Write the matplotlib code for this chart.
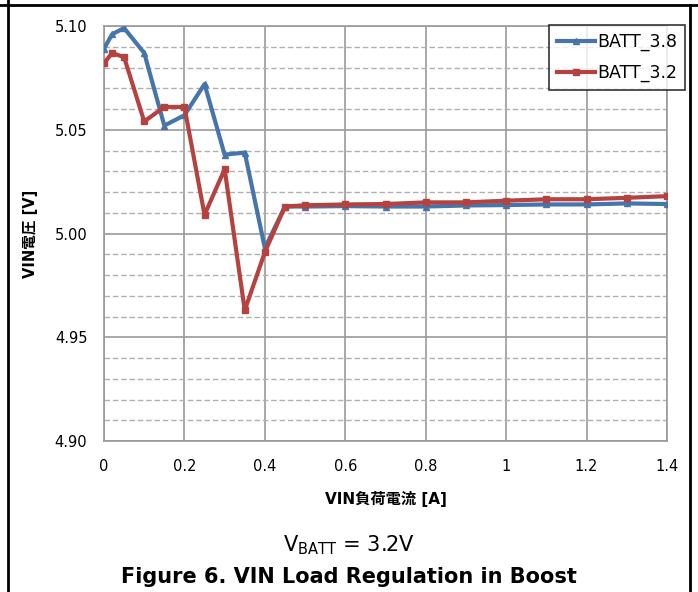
import matplotlib
matplotlib.use("Agg")
import matplotlib.pyplot as plt
from matplotlib.lines import Line2D
import numpy as np

x_vals = [0, 0.02, 0.05, 0.10, 0.15, 0.20, 0.25, 0.30, 0.35, 0.40, 0.45, 0.50, 0.60, 0.70, 0.80, 0.90, 1.00, 1.10, 1.20, 1.30, 1.40]
batt_38 = [5.089, 5.096, 5.099, 5.087, 5.052, 5.057, 5.072, 5.038, 5.039, 4.993, 5.013, 5.013, 5.0132, 5.013, 5.013, 5.0135, 5.0137, 5.014, 5.014, 5.0145, 5.0142]
batt_32 = [5.082, 5.087, 5.085, 5.054, 5.061, 5.061, 5.009, 5.031, 4.963, 4.991, 5.013, 5.0136, 5.014, 5.0142, 5.015, 5.015, 5.0158, 5.0165, 5.0165, 5.0172, 5.018]
series_names = ["BATT_3.8", "BATT_3.2"]
x_ticks = [0, 0.2, 0.4, 0.6, 0.8, 1.0, 1.2, 1.4]
x_tick_labels = ["0", "0.2", "0.4", "0.6", "0.8", "1", "1.2", "1.4"]
y_ticks = [4.90, 4.95, 5.00, 5.05, 5.10]

fig = plt.figure(figsize=(6.98, 5.92), dpi=100)
ax = fig.add_axes([104/698, 1-441/592, (667-104)/698, (441-26)/592])

blue = "#4675AC"
red = "#B5423F"

ax.set_xlim(0, 1.4)
ax.set_ylim(4.90, 5.10)
ax.set_xticks(x_ticks)
ax.set_xticklabels(x_tick_labels)
ax.set_yticks(y_ticks)
ax.set_yticklabels([f"{v:.2f}" for v in y_ticks])
ax.set_yticks(np.arange(4.90, 5.1001, 0.01), minor=True)
ax.grid(True, which="major", color="#9A9A9A", linewidth=1.2, linestyle="-")
ax.yaxis.grid(True, which="minor", color="#B0B0B0", linewidth=1.0, linestyle=(0, (4, 2)))
ax.set_axisbelow(True)
ax.tick_params(which="both", length=0, labelsize=10.5)
ax.tick_params(axis="y", pad=12)
ax.tick_params(axis="x", pad=13)
for s in ax.spines.values():
    s.set_color("#9A9A9A")
    s.set_linewidth(1.2)

ax.plot(x_vals, batt_38, color=blue, linewidth=3, marker="^", markersize=4.5, label=series_names[0], zorder=3)
ax.plot(x_vals, batt_32, color=red, linewidth=3, marker="s", markersize=5, label=series_names[1], zorder=4)

ax.set_xlabel("VIN負荷電流 [A]", fontsize=11, fontweight="bold", family=["DejaVu Sans", "Noto Sans CJK JP"], labelpad=12)
ax.set_ylabel("VIN電圧 [V]", fontsize=10.5, fontweight="bold", family=["DejaVu Sans", "Noto Sans CJK JP"], labelpad=12)

leg = fig.legend(loc="upper left", bbox_to_anchor=(549/698, 1-25/592), borderaxespad=0, frameon=True, fancybox=False,
                 edgecolor="black", fontsize=12.5, handlelength=2.2, borderpad=0.45, labelspacing=0.75, handletextpad=0.15)
leg.get_frame().set_linewidth(1.2)

fig.text(0.5, 1-545/592, r"V$_{\mathrm{BATT}}$ = 3.2V", ha="center", va="center", fontsize=15)
fig.text(0.5, 1-577/592, "Figure 6. VIN Load Regulation in Boost", ha="center", va="center", fontsize=15, fontweight="bold")

# outer frame lines
fig.add_artist(Line2D([0, 1], [1-5/592, 1-5/592], transform=fig.transFigure, color="black", linewidth=2))
fig.add_artist(Line2D([8/698, 8/698], [0, 1], transform=fig.transFigure, color="black", linewidth=2))
fig.add_artist(Line2D([690/698, 690/698], [0, 1-5/592], transform=fig.transFigure, color="black", linewidth=2))

fig.savefig("out.png", dpi=100)
